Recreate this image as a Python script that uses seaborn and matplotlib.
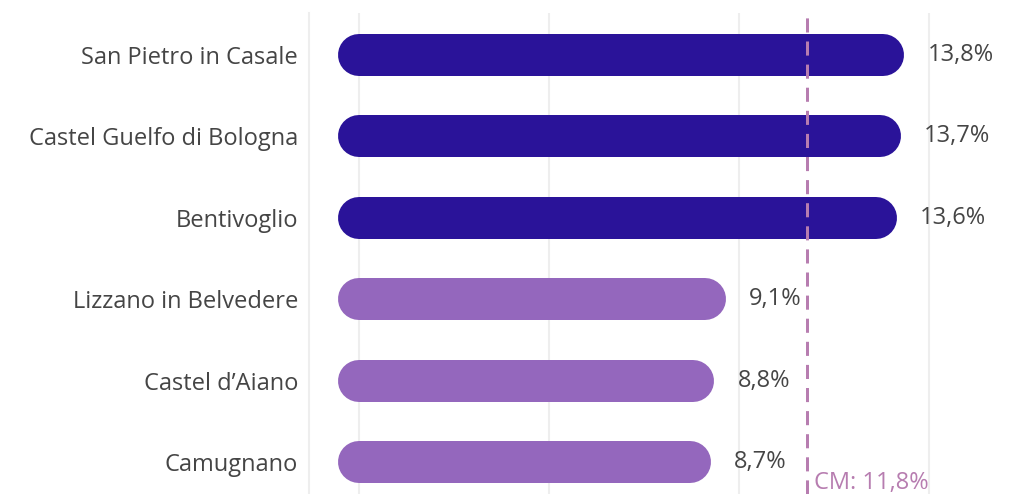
import matplotlib
matplotlib.use("Agg")
import matplotlib.pyplot as plt
import seaborn as sns
import pandas as pd
from matplotlib.lines import Line2D

# ---- data ----
comuni = ["San Pietro in Casale", "Castel Guelfo di Bologna", "Bentivoglio",
          "Lizzano in Belvedere", "Castel d\u2019Aiano", "Camugnano"]
valori = [13.8, 13.7, 13.6, 9.1, 8.8, 8.7]
gruppo = ["alto", "alto", "alto", "basso", "basso", "basso"]
media_cm = 11.8
colori = {"alto": "#2a1399", "basso": "#9467bd"}

df = pd.DataFrame({"comune": comuni, "valore": valori, "gruppo": gruppo})

sns.set_theme(style="white")
plt.rcParams["font.family"] = ["Open Sans", "DejaVu Sans"]

W, H, DPI = 1011, 494, 100
fig = plt.figure(figsize=(W / DPI, H / DPI), dpi=DPI)
ax_left, ax_right, ax_top, ax_bottom = 309, 1011, 13, 494
ax = fig.add_axes([ax_left / W, 1 - ax_bottom / H,
                   (ax_right - ax_left) / W, (ax_bottom - ax_top) / H])

sns.barplot(data=df, x="valore", y="comune", hue="gruppo", palette=colori,
            dodge=False, legend=False, width=0.5, saturation=1, ax=ax)

# scale: 0 at px 359, 38 px per percent
px_per = 38.0
x0 = -(359 - ax_left) / px_per
x1 = (ax_right - 359) / px_per
ax.set_xlim(x0, x1)
ax.set_ylim(5 + 32 / 81.4, -42 / 81.4)

FS = 17
TXT = "#454545"
bar_px = 42
lw_pt = bar_px * 72 / DPI
for p in list(ax.patches):
    w = p.get_width()
    if w == 0 or p.get_height() == 0:
        continue
    yc = p.get_y() + p.get_height() / 2
    xs = p.get_x()
    ln = Line2D([xs, xs + w], [yc, yc], color=p.get_facecolor(), linewidth=lw_pt,
                solid_capstyle="round", zorder=3)
    ax.add_line(ln)
    p.set_visible(False)
    lab = f"{xs + w:.1f}%".replace(".", ",")
    ax.annotate(lab, xy=(xs + w, yc), xytext=((bar_px / 2 + 23) * 72 / DPI, 0),
                textcoords="offset points", ha="left", va="center",
                fontsize=FS, color=TXT, zorder=4)

# gridlines
ax.set_xticks([0, 5, 10, 15])
ax.set_xticklabels([])
ax.grid(axis="x", color="#eeeeee", linewidth=1.5, zorder=0)
ax.grid(axis="y", visible=False)
ax.tick_params(axis="x", length=0)
ax.tick_params(axis="y", length=0, pad=8, labelsize=FS, labelcolor=TXT)
ax.set_xlabel("")
ax.set_ylabel("")
for s in ["top", "right", "bottom"]:
    ax.spines[s].set_visible(False)
ax.spines["left"].set_color("#eeeeee")
ax.spines["left"].set_linewidth(1.5)

# reference line
ax.axvline(media_cm, color="#b77db0", linewidth=3 * 72 / DPI, dashes=(4.7, 3), zorder=5)
ax.text(media_cm + 7 / px_per, 5 / (ax_bottom - ax_top),
        f"CM: {media_cm:.1f}%".replace(".", ","),
        transform=ax.get_xaxis_transform(), ha="left", va="baseline",
        fontsize=FS, color="#b77db0", zorder=6)

fig.savefig("out.png", dpi=DPI)
